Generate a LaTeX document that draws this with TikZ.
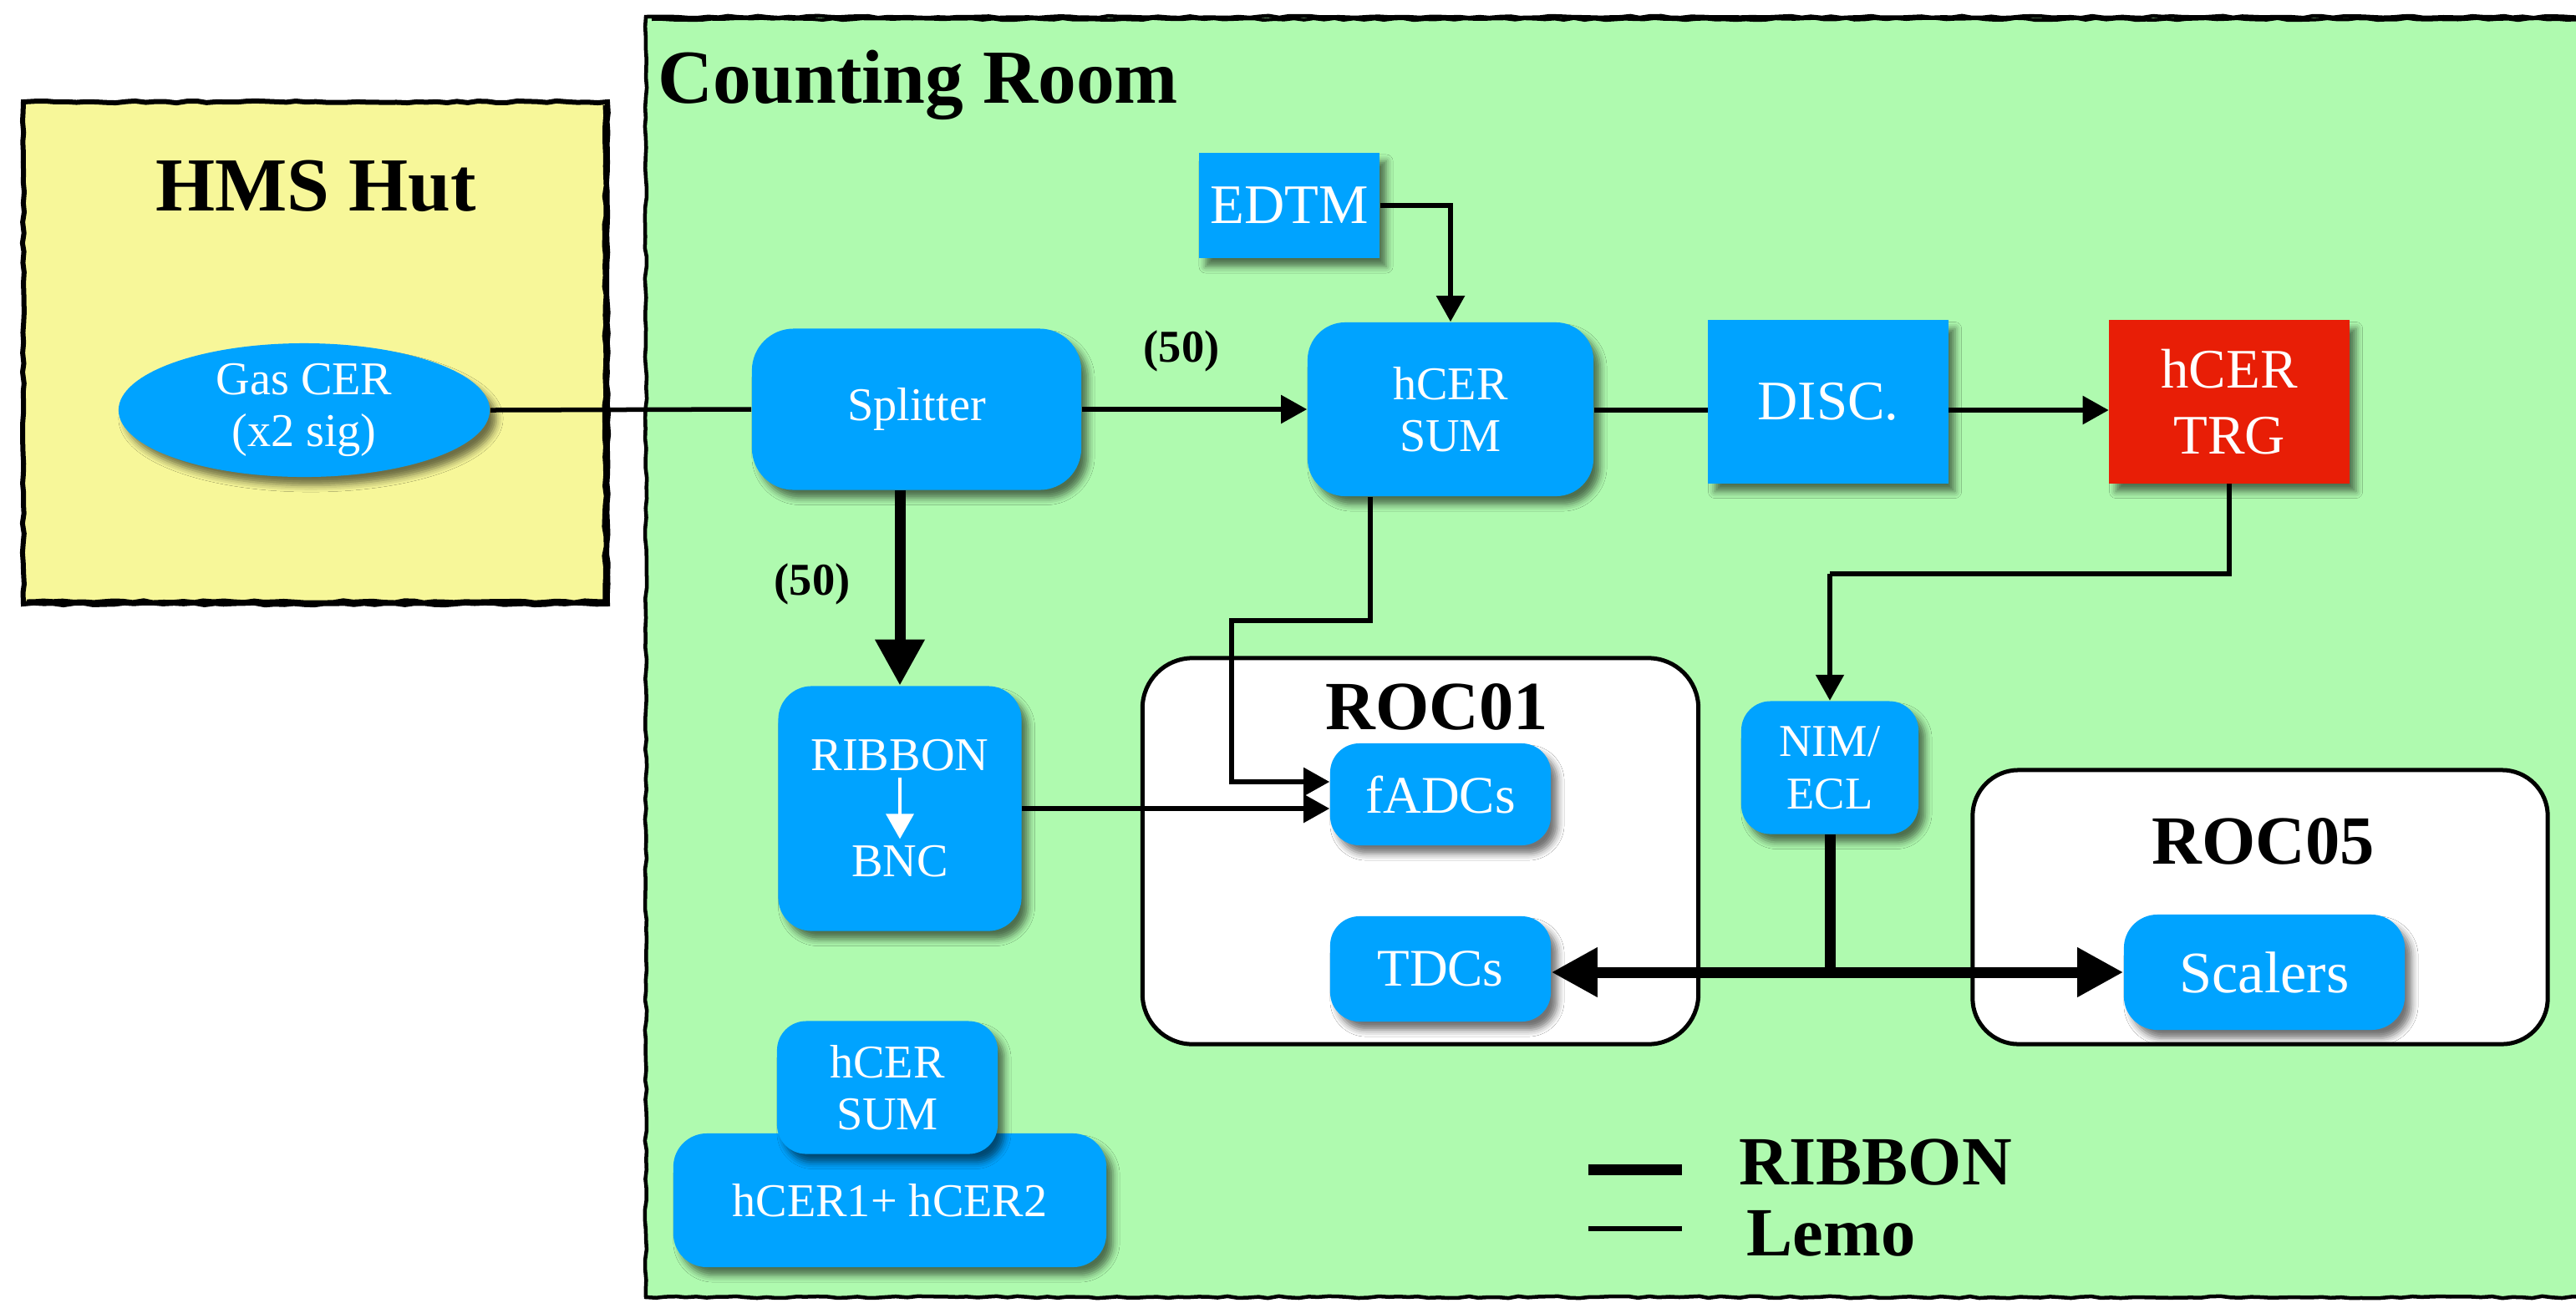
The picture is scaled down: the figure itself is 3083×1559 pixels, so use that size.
\documentclass[tikz,border=0pt]{standalone}
\usepackage{fontspec}
\setmainfont{Liberation Serif}
\usetikzlibrary{arrows.meta,shapes.geometric,shadows.blur,decorations.pathmorphing}

\definecolor{boxblue}{RGB}{0,163,255}
\definecolor{roomgreen}{RGB}{175,250,175}
\definecolor{hutyellow}{RGB}{247,247,153}
\definecolor{trgred}{RGB}{232,30,6}

\newcommand\boxfont{\fontsize{16}{17.5}\selectfont}
\newcommand\midfont{\fontsize{19}{22.5}\selectfont}
\newcommand\titlefont{\fontsize{26}{30}\selectfont\bfseries}
\newcommand\rocfont{\fontsize{23.5}{27}\selectfont\bfseries}
\newcommand\countfont{\fontsize{15.5}{18}\selectfont\bfseries}

\begin{document}
\begin{tikzpicture}[x=0.01cm,y=-0.01cm,
  softshadow/.style={blur shadow={shadow xshift=0.08cm,shadow yshift=-0.10cm,
      shadow blur radius=0.08cm,shadow opacity=55}},
  bluebox/.style={rectangle,fill=boxblue,text=white,align=center,inner sep=0pt,
      font=\boxfont,softshadow},
  roundbox/.style={bluebox,rounded corners=0.4cm},
  rocbox/.style={rectangle,rounded corners=0.6cm,fill=white,draw=black,
      line width=0.05cm,inner sep=0pt},
  boxtext/.style={text=white,font=\boxfont,inner sep=0.07cm},
  lemo/.style={draw=black,line width=0.055cm},
  ribbonline/.style={draw=black,line width=0.13cm},
  lemoarrow/.style={-{Triangle[length=0.31cm,width=0.33cm]}},
  ribbonarrow/.style={-{Triangle[length=0.55cm,width=0.56cm]}},
  sketchy/.style={decorate,decoration={random steps,segment length=0.12cm,amplitude=0.012cm}},
]
\useasboundingbox (0,0) rectangle (3083,1559);

% rooms
\fill[hutyellow] (28,122) rectangle (727,723);
\draw[line width=0.06cm,sketchy] (28,122) rectangle (727,723);
\draw[line width=0.05cm,sketchy] (724,126) -- (724,720) -- (32,720);
\fill[roomgreen] (773,20) rectangle (3140,1553);
\draw[line width=0.045cm,sketchy] (3140,20) -- (773,20) -- (773,1553) -- (3140,1553);
\draw[line width=0.04cm,sketchy] (780,23) -- (3140,23);

\node[font=\titlefont,anchor=base] (huttitle) at (378,252) {HMS Hut};
\node[font=\titlefont,anchor=base west,inner sep=0pt] (roomtitle) at (787,123) {Counting Room};

% signal chain
\node[ellipse,fill=boxblue,text=white,align=center,inner sep=0pt,font=\boxfont,
      minimum width=4.44cm,minimum height=1.60cm,softshadow] (gas) at (364,491)
      {Gas CER\\(x2 sig)};
\node[roundbox,rounded corners=0.5cm,minimum width=3.94cm,minimum height=1.93cm] (split) at (1097,490) {Splitter};
\node[roundbox,rounded corners=0.45cm,minimum width=3.42cm,minimum height=2.08cm] (hsum) at (1736,490) {hCER\\SUM};
\node[bluebox,font=\midfont,minimum width=2.16cm,minimum height=1.26cm] (edtm) at (1543,246) {EDTM};
\node[bluebox,font=\midfont,minimum width=2.87cm,minimum height=1.95cm] (disc) at (2188,481) {DISC.};
\node[bluebox,fill=trgred,font=\midfont,minimum width=2.87cm,minimum height=1.95cm] (trg) at (2668,481) {hCER\\TRG};

\node[roundbox,minimum width=2.91cm,minimum height=2.93cm] (rbox) at (1077,968) {};
\node[boxtext] (rbtop) at (1077,904) {RIBBON};
\node[boxtext] (rbbot) at (1077,1031) {BNC};
\draw[white,line width=0.035cm,-{Triangle[length=0.30cm,width=0.33cm]}] (rbtop.south) -- (rbbot.north);

% readout crates
\node[rocbox,minimum width=6.65cm,minimum height=4.62cm] (roc1) at (1700,1019) {};
\node[font=\rocfont,anchor=base] (roc1t) at (1720,873) {ROC01};
\node[roundbox,rounded corners=0.35cm,font=\fontsize{18}{20}\selectfont,minimum width=2.64cm,minimum height=1.22cm] (fadc) at (1724,951) {fADCs};
\node[roundbox,rounded corners=0.35cm,font=\fontsize{18}{20}\selectfont,minimum width=2.64cm,minimum height=1.26cm] (tdc) at (1724,1160) {TDCs};

\node[rocbox,rounded corners=0.55cm,minimum width=6.88cm,minimum height=3.28cm] (roc5) at (2705,1086) {};
\node[font=\rocfont,anchor=base] (roc5t) at (2709,1034) {ROC05};
\node[roundbox,font=\fontsize{20}{22}\selectfont,minimum width=3.36cm,minimum height=1.38cm] (scal) at (2710,1164) {Scalers};

\node[roundbox,rounded corners=0.35cm,font=\fontsize{15.5}{18}\selectfont,minimum width=2.12cm,minimum height=1.59cm] (nim) at (2190,919) {NIM/\\ECL};

% sum module sketch
\node[roundbox,minimum width=5.18cm,minimum height=1.60cm] (sumbig) at (1065,1437) {hCER1+ hCER2};
\node[roundbox,rounded corners=0.35cm,minimum width=2.64cm,minimum height=1.59cm] (sumsm) at (1062,1302) {hCER\\SUM};

% labels
\node[font=\countfont,anchor=base] (n50a) at (1414,433) {(50)};
\node[font=\countfont,anchor=base] (n50b) at (972,712) {(50)};

% connectors
\draw[lemo] (gas.east) -- (split.west);
\draw[lemo,lemoarrow] (split.east) -- (hsum.west);
\draw[lemo,lemoarrow] (edtm.east) -| (hsum.north);
\draw[lemo] (hsum.east |- 0,491) -- (disc.west |- 0,491);
\draw[lemo,lemoarrow] (disc.east |- 0,491) -- (trg.west |- 0,491);
\draw[ribbonline,ribbonarrow] (split.south -| rbox.north) -- (rbox.north);

\coordinate (sumtap) at (1474,743);
\draw[lemo,lemoarrow] ([xshift=-0.96cm]hsum.south) |- (sumtap) |- ([yshift=0.15cm]fadc.west);
\draw[lemo,lemoarrow] (rbox.east) -- (rbox.east -| fadc.west);

\coordinate (trgbend) at (2190,687);
\draw[lemo] (trg.south) |- (trgbend);
\draw[lemo,lemoarrow] (trgbend) -- (nim.north);

\coordinate (bus) at (2190,1164);
\draw[ribbonline] (nim.south) -- (bus);
\draw[ribbonline,ribbonarrow] (bus) -- (bus -| tdc.east);
\draw[ribbonline,ribbonarrow] (bus) -- (bus -| scal.west);

% legend
\coordinate (legr1) at (1901,1400);
\coordinate (legr2) at (2013,1400);
\coordinate (legl1) at (1901,1471);
\coordinate (legl2) at (2013,1471);
\draw[ribbonline] (legr1) -- (legr2);
\draw[lemo] (legl1) -- (legl2);
\node[font=\rocfont,anchor=base west,inner sep=0pt] (legrt) at (2081,1418) {RIBBON};
\node[font=\rocfont,anchor=base west,inner sep=0pt] (leglt) at (2090,1503) {Lemo};
\end{tikzpicture}
\end{document}
